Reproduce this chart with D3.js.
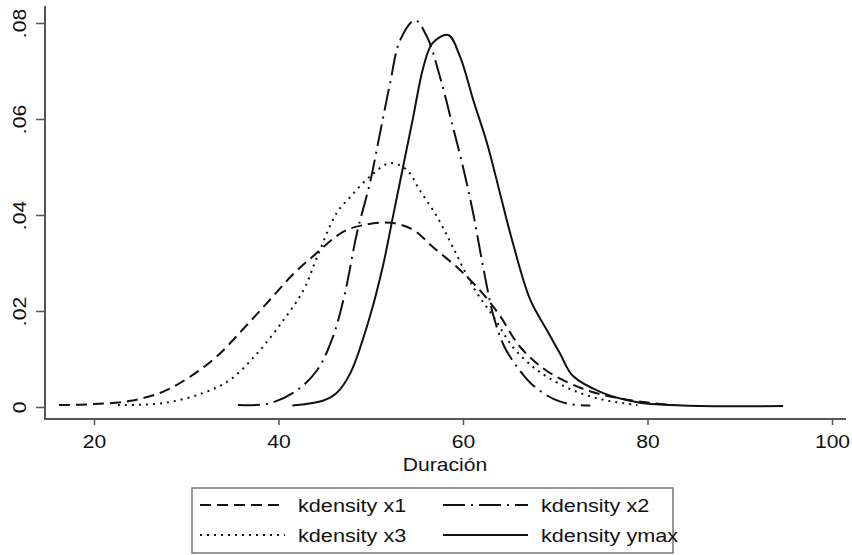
<!DOCTYPE html>
<html>
<head>
<meta charset="utf-8">
<script src="https://cdn.jsdelivr.net/npm/d3@7"></script>
<style>
    body { margin: 0; background: #fff; }
    text { font-family: "Liberation Sans", Arial, sans-serif; fill: #111; }
</style>
</head>
<body>
<script>
//kernel density curves (x = duración, d = density)
var x1Vals = [16.2, 20, 24, 27.5, 30.4, 33.3, 36.2, 39.1, 41.6, 43.8, 47, 49.2, 52.1, 54.6, 56.7, 59.7, 62.2, 64, 66.2, 69.1, 73.4, 77, 80.6, 83];
var x1Dens = [0.0004, 0.0006, 0.0013, 0.0032, 0.0063, 0.0105, 0.0163, 0.0224, 0.0277, 0.0315, 0.0365, 0.0379, 0.0384, 0.0369, 0.0334, 0.0285, 0.0235, 0.019, 0.0125, 0.0075, 0.0035, 0.0018, 0.0008, 0.0004];

var x2Vals = [35.6, 39.1, 42, 44.2, 45.9, 47.2, 48.5, 49.9, 51, 52.1, 53.2, 54.8, 56.1, 57.5, 58.9, 60, 61.1, 62.2, 63.3, 64.5, 66.2, 67.6, 69.8, 71.6, 73.8];
var x2Dens = [0.0004, 0.0008, 0.0035, 0.0077, 0.0146, 0.0237, 0.0362, 0.0466, 0.057, 0.0675, 0.0765, 0.0806, 0.0771, 0.0688, 0.0584, 0.05, 0.0404, 0.029, 0.019, 0.0125, 0.0075, 0.0045, 0.0017, 0.0006, 0.0003];

var x3Vals = [22.6, 27.5, 31.8, 34.7, 37.7, 40.5, 42.7, 44.2, 46.3, 47.8, 49.9, 52.1, 53.9, 55.3, 57.2, 58.9, 61.1, 63.3, 65.4, 67.5, 69.1, 71.9, 75.2, 78.9];
var x3Dens = [0.0004, 0.0008, 0.0029, 0.0056, 0.0112, 0.018, 0.0243, 0.0313, 0.0404, 0.0438, 0.048, 0.0508, 0.0494, 0.0452, 0.0396, 0.0333, 0.025, 0.0188, 0.0125, 0.0085, 0.0063, 0.0035, 0.0015, 0.0004];

var ymaxVals = [41.5, 44.8, 46.3, 47.8, 49.9, 51.3, 52.4, 53.5, 54.6, 55.7, 56.7, 58.4, 59.7, 61.1, 62.6, 64, 65.4, 67.3, 69.1, 70.5, 71.9, 75.2, 78.9, 81.4, 85.7, 94.7];
var ymaxDens = [0.0003, 0.0013, 0.0029, 0.0071, 0.0188, 0.0292, 0.0396, 0.05, 0.0604, 0.0708, 0.0758, 0.0775, 0.0729, 0.064, 0.055, 0.0446, 0.0342, 0.0223, 0.016, 0.0112, 0.0065, 0.0029, 0.001, 0.0005, 0.0002, 0.0002];

//axis ticks and legend labels
var xTicks = [20, 40, 60, 80, 100];
var yTicks = [0, 0.02, 0.04, 0.06, 0.08];
var yTickLabels = ["0", ".02", ".04", ".06", ".08"];
var seriesNames = ["kdensity x1", "kdensity x2", "kdensity x3", "kdensity ymax"];

//svg size
var w = 852, h = 555;
var stretch = "scale(1.14,1)"; //the original font runs a bit wider than Arial

var svg = d3.select("body")
    .append("svg")
    .attr("width", w)
    .attr("height", h);

//scales
var x = d3.scaleLinear()
    .domain([20, 100])
    .range([94, 832]);

var y = d3.scaleLinear()
    .domain([0, 0.08])
    .range([407, 23]);

//series table built from the arrays above
var series = [
    { name: seriesNames[0], xs: x1Vals, ds: x1Dens, dash: "11,6" },
    { name: seriesNames[1], xs: x2Vals, ds: x2Dens, dash: "22,6,2,6" },
    { name: seriesNames[2], xs: x3Vals, ds: x3Dens, dash: "2,5" },
    { name: seriesNames[3], xs: ymaxVals, ds: ymaxDens, dash: null }
];

var line = d3.line()
    .x(function(d){ return x(d[0]); })
    .y(function(d){ return y(d[1]); })
    .curve(d3.curveCatmullRom.alpha(0.5));

//curves
var curves = svg.selectAll(".curves")
    .data(series)
    .enter()
    .append("path")
    .attr("class", "curves")
    .attr("d", function(d){
        return line(d3.zip(d.xs, d.ds));
    })
    .attr("fill", "none")
    .attr("stroke", "#111")
    .attr("stroke-width", 2)
    .attr("stroke-dasharray", function(d){ return d.dash; });

//x axis
var xAxis = svg.append("g")
    .attr("class", "xAxis")
    .attr("transform", "translate(0,419)")
    .call(d3.axisBottom(x).tickValues(xTicks).tickSize(6).tickSizeOuter(0).tickPadding(10));

xAxis.select(".domain").remove();
xAxis.selectAll("line").attr("stroke", "#555").attr("stroke-width", 1.5);
xAxis.selectAll("text")
    .attr("transform", stretch)
    .style("font-size", "18.5px")
    .attr("fill", "#111");

svg.append("line")
    .attr("x1", 44).attr("x2", 846)
    .attr("y1", 419).attr("y2", 419)
    .attr("stroke", "#555")
    .attr("stroke-width", 2);

//y axis
var yAxis = svg.append("g")
    .attr("class", "yAxis")
    .attr("transform", "translate(45,0)")
    .call(d3.axisLeft(y).tickValues(yTicks).tickSize(9).tickSizeOuter(0).tickFormat(function(d, i){
        return yTickLabels[i];
    }));

yAxis.select(".domain").remove();
yAxis.selectAll("line").attr("stroke", "#555").attr("stroke-width", 1.5);
yAxis.selectAll("text")
    .attr("x", 0)
    .attr("dy", 0)
    .attr("text-anchor", "middle")
    .attr("transform", "translate(-19,0) rotate(-90) " + stretch)
    .style("font-size", "18.5px")
    .attr("fill", "#111");

svg.append("line")
    .attr("x1", 45).attr("x2", 45)
    .attr("y1", 6).attr("y2", 420)
    .attr("stroke", "#555")
    .attr("stroke-width", 2);

//x axis title
var title = svg.append("text")
    .attr("text-anchor", "middle")
    .attr("transform", "translate(445,471) " + stretch)
    .style("font-size", "18.5px")
    .text("Duración");

//legend
var legend = svg.append("g")
    .attr("class", "legend");

legend.append("rect")
    .attr("x", 192)
    .attr("y", 488)
    .attr("width", 481)
    .attr("height", 65)
    .attr("fill", "#fff")
    .attr("stroke", "#777")
    .attr("stroke-width", 1.5);

var items = legend.selectAll(".items")
    .data(series)
    .enter()
    .append("g")
    .attr("class", "items")
    .attr("transform", function(d, i){
        return "translate(" + (i % 2 === 0 ? 200 : 443) + "," + (i < 2 ? 505 : 535) + ")";
    });

items.append("line")
    .attr("x1", 0)
    .attr("x2", 85)
    .attr("stroke", "#111")
    .attr("stroke-width", 2)
    .attr("stroke-dasharray", function(d){ return d.dash; });

items.append("text")
    .attr("transform", "translate(98,7) " + stretch)
    .style("font-size", "19px")
    .text(function(d){ return d.name; });
</script>
</body>
</html>
